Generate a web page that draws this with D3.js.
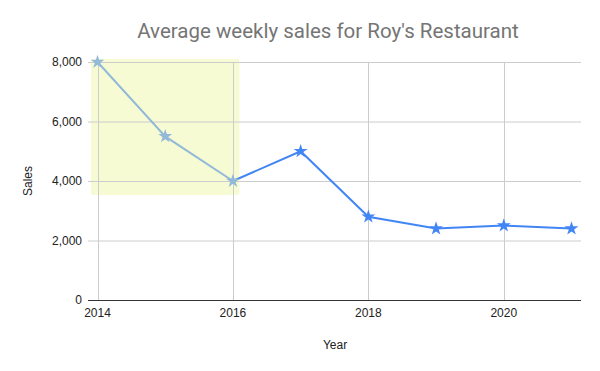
<!DOCTYPE html>
<html>
<head>
<meta charset="utf-8">
<script src="https://cdn.jsdelivr.net/npm/d3@7"></script>
<style>
  body { margin: 0; background: #fff; }
  text { font-family: "Liberation Sans", Arial, sans-serif; }
  text.title { font-family: Roboto, "Liberation Sans", Arial, sans-serif; }
</style>
</head>
<body>
<svg id="chart" width="600" height="371"></svg>
<script>
// chart data
var years = [2014, 2015, 2016, 2017, 2018, 2019, 2020, 2021];
var sales = [8000, 5500, 4000, 5000, 2800, 2400, 2500, 2400];
var xTicks = [2014, 2016, 2018, 2020];
var yTicks = [0, 2000, 4000, 6000, 8000];
var highlightYears = [2014, 2016];

var svg = d3.select("#chart");
var plotLeft = 88, plotRight = 581, plotTop = 62, plotBottom = 300;

var x = d3.scaleLinear().domain([2014, 2021]).range([97.5, 571.5]);
var y = d3.scaleLinear().domain([0, 8000]).range([plotBottom, plotTop]);

var pts = years.map(function (d, i) { return {year: d, value: sales[i]}; });

// highlight box
svg.append("rect")
    .attr("x", x(highlightYears[0]) - 6.5)
    .attr("y", y(8000) - 3)
    .attr("width", x(highlightYears[1]) - x(highlightYears[0]) + 13)
    .attr("height", y(3600) - y(8000) + 5)
    .attr("rx", 3)
    .style("fill", "#f7fbd4");

// gridlines
svg.append("g").selectAll("line").data(yTicks.filter(function (d) { return d > 0; }))
    .enter().append("line")
    .attr("x1", plotLeft).attr("x2", plotRight)
    .attr("y1", function (d) { return y(d) + 0.5; })
    .attr("y2", function (d) { return y(d) + 0.5; })
    .style("stroke", "#cccccc");

svg.append("g").selectAll("line").data(xTicks)
    .enter().append("line")
    .attr("x1", function (d) { return Math.round(x(d)) + 0.5; })
    .attr("x2", function (d) { return Math.round(x(d)) + 0.5; })
    .attr("y1", plotTop).attr("y2", plotBottom)
    .style("stroke", "#cccccc");

// baseline
svg.append("line")
    .attr("x1", plotLeft).attr("x2", plotRight)
    .attr("y1", plotBottom + 0.5).attr("y2", plotBottom + 0.5)
    .style("stroke", "#333333");

// y tick labels
svg.append("g").selectAll("text").data(yTicks)
    .enter().append("text")
    .attr("x", 82)
    .attr("y", function (d) { return y(d) + 4; })
    .attr("text-anchor", "end")
    .style("font-size", "12px")
    .style("fill", "#222")
    .text(d3.format(","));

// x tick labels
svg.append("g").selectAll("text").data(xTicks)
    .enter().append("text")
    .attr("x", function (d) { return x(d); })
    .attr("y", 317)
    .attr("text-anchor", "middle")
    .style("font-size", "12px")
    .style("fill", "#222")
    .text(function (d) { return d; });

// line segments
var line = d3.line()
    .x(function (d) { return x(d.year); })
    .y(function (d) { return y(d.value); });

var hi = pts.filter(function (d) { return d.year <= highlightYears[1]; });
var rest = pts.filter(function (d) { return d.year >= highlightYears[1]; });

svg.append("path").datum(rest)
    .attr("d", line)
    .style("fill", "none")
    .style("stroke", "#4285f4")
    .style("stroke-width", 2);

svg.append("path").datum(hi)
    .attr("d", line)
    .style("fill", "none")
    .style("stroke", "#93b9d8")
    .style("stroke-width", 2);

// star markers
var star = d3.symbol().type(d3.symbolStar).size(60);
svg.append("g").selectAll("path").data(pts)
    .enter().append("path")
    .attr("d", star)
    .attr("transform", function (d) { return "translate(" + x(d.year) + "," + y(d.value) + ")"; })
    .style("fill", function (d) { return d.year <= highlightYears[1] ? "#93b9d8" : "#4285f4"; });

// title and axis labels
svg.append("text")
    .attr("class", "title")
    .attr("x", 328).attr("y", 38)
    .attr("text-anchor", "middle")
    .style("font-size", "20.5px")
    .style("fill", "#757575")
    .text("Average weekly sales for Roy's Restaurant");

svg.append("text")
    .attr("x", 335).attr("y", 349)
    .attr("text-anchor", "middle")
    .style("font-size", "12px")
    .style("fill", "#222")
    .text("Year");

svg.append("text")
    .attr("transform", "translate(32,181) rotate(-90)")
    .attr("text-anchor", "middle")
    .style("font-size", "12px")
    .style("fill", "#222")
    .text("Sales");
</script>
</body>
</html>
